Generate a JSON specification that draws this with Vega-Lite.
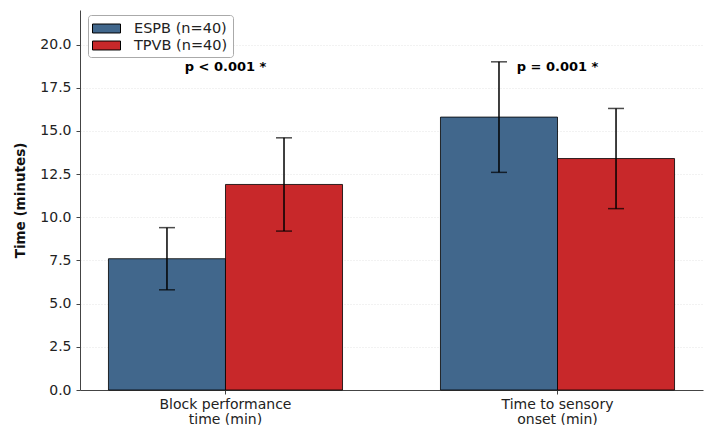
{
  "$schema": "https://vega.github.io/schema/vega-lite/v6.json",
  "width": 623,
  "height": 380,
  "autosize": {"type": "none"},
  "padding": {"left": 80, "top": 10, "right": 5, "bottom": 35},
  "config": {
    "font": "DejaVu Sans",
    "view": {"stroke": null},
    "axis": {
      "labelFont": "DejaVu Sans",
      "labelFontSize": 14,
      "labelColor": "#222",
      "domainColor": "#444",
      "tickColor": "#444",
      "tickSize": 4,
      "titleFont": "DejaVu Sans"
    },
    "legend": {
      "orient": "none",
      "legendX": 8,
      "legendY": 5,
      "padding": 5,
      "strokeColor": "#aaa",
      "fillColor": "white",
      "cornerRadius": 3,
      "labelFont": "DejaVu Sans",
      "labelFontSize": 14.5,
      "labelColor": "#222",
      "symbolType": "M-1.75,-0.56H1.75V0.56H-1.75Z",
      "symbolSize": 256,
      "symbolStrokeColor": "black",
      "symbolStrokeWidth": 1,
      "symbolOpacity": 1,
      "symbolOffset": 5,
      "labelOffset": 19,
      "rowPadding": 2
    }
  },
  "datasets": {
    "bars": [
      {"measure": "Block performance|time (min)", "group": "ESPB (n=40)", "mean": 7.6, "lo": 5.8, "hi": 9.4},
      {"measure": "Block performance|time (min)", "group": "TPVB (n=40)", "mean": 11.9, "lo": 9.2, "hi": 14.6},
      {"measure": "Time to sensory|onset (min)", "group": "ESPB (n=40)", "mean": 15.8, "lo": 12.6, "hi": 19.0},
      {"measure": "Time to sensory|onset (min)", "group": "TPVB (n=40)", "mean": 13.4, "lo": 10.5, "hi": 16.3}
    ],
    "notes": [
      {"measure": "Block performance|time (min)", "y": 18.7, "label": "p < 0.001 *"},
      {"measure": "Time to sensory|onset (min)", "y": 18.7, "label": "p = 0.001 *"}
    ]
  },
  "encoding": {
    "x": {
      "field": "measure",
      "type": "nominal",
      "sort": null,
      "scale": {"paddingInner": 0.295, "paddingOuter": 0.0857},
      "axis": {
        "title": null,
        "labelAngle": 0,
        "labelExpr": "split(datum.label, '|')",
        "labelPadding": 3,
        "labelLineHeight": 15
      }
    }
  },
  "layer": [
    {
      "data": {"name": "bars"},
      "mark": {"type": "bar", "stroke": "black", "strokeWidth": 1, "strokeOpacity": 0.8},
      "encoding": {
        "xOffset": {"field": "group", "type": "nominal", "scale": {"paddingInner": 0, "paddingOuter": 0}},
        "y": {
          "field": "mean",
          "type": "quantitative",
          "scale": {"domain": [0, 22], "nice": false},
          "axis": {
            "title": "Time (minutes)",
            "titleFontSize": 13.5,
            "titleFontWeight": "bold",
            "titleColor": "#111",
            "titlePadding": 12,
            "values": [0, 2.5, 5, 7.5, 10, 12.5, 15, 17.5, 20],
            "format": ".1f",
            "labelPadding": 5,
            "grid": true,
            "gridColor": "#dddddd",
            "gridDash": [1, 2],
            "gridWidth": 0.8
          }
        },
        "color": {
          "field": "group",
          "type": "nominal",
          "scale": {"domain": ["ESPB (n=40)", "TPVB (n=40)"], "range": ["#41678c", "#c8282a"]},
          "legend": {"title": null}
        }
      }
    },
    {
      "data": {"name": "bars"},
      "mark": {"type": "rule", "color": "black", "strokeWidth": 1.5},
      "encoding": {
        "xOffset": {"field": "group", "type": "nominal"},
        "y": {"field": "lo", "type": "quantitative"},
        "y2": {"field": "hi"}
      }
    },
    {
      "data": {"name": "bars"},
      "mark": {"type": "tick", "color": "black", "thickness": 1.5, "size": 16, "orient": "horizontal"},
      "encoding": {
        "xOffset": {"field": "group", "type": "nominal"},
        "y": {"field": "lo", "type": "quantitative"}
      }
    },
    {
      "data": {"name": "bars"},
      "mark": {"type": "tick", "color": "black", "thickness": 1.5, "size": 16, "orient": "horizontal"},
      "encoding": {
        "xOffset": {"field": "group", "type": "nominal"},
        "y": {"field": "hi", "type": "quantitative"}
      }
    },
    {
      "data": {"name": "notes"},
      "mark": {"type": "text", "fontWeight": "bold", "fontSize": 13, "baseline": "middle", "align": "center", "color": "black"},
      "encoding": {
        "y": {"field": "y", "type": "quantitative"},
        "text": {"field": "label"}
      }
    }
  ]
}
